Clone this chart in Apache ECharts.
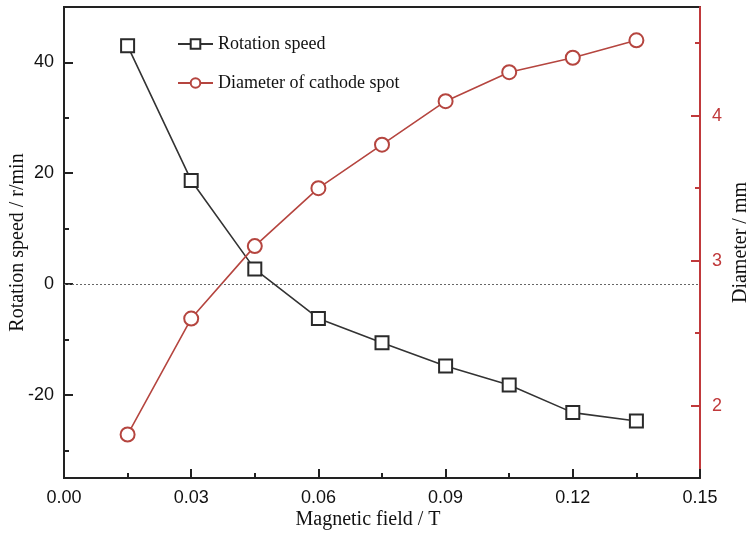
<!DOCTYPE html>
<html>
<head>
<meta charset="utf-8">
<script src="https://cdn.jsdelivr.net/npm/echarts@6/dist/echarts.min.js"></script>
<style>html,body{margin:0;padding:0;background:#fff}#c{width:751px;height:537px}</style>
</head>
<body>
<div id="c"></div>
<script>
var fieldT = [0.015, 0.03, 0.045, 0.06, 0.075, 0.09, 0.105, 0.12, 0.135];
var rotationSpeed = [43.0, 18.7, 2.7, -6.2, -10.6, -14.8, -18.2, -23.2, -24.7];
var spotDiameter = [1.8, 2.6, 3.1, 3.5, 3.8, 4.1, 4.3, 4.4, 4.52];
var leftMajorTicks = [-20, 0, 20, 40];
var leftMinorTicks = [-30, -10, 10, 30];
var rightMajorTicks = [2, 3, 4];
var rightMinorTicks = [2.5, 3.5, 4.5];
var seriesNames = ['Rotation speed', 'Diameter of cathode spot'];

var BLACK = '#222222', RED = '#c0393b', SERIES_RED = '#b5453f';
var sans = 'Liberation Sans', serif = 'Liberation Serif';

function pairs(xs, ys) { return xs.map(function (x, i) { return [x, ys[i]]; }); }

var chart = echarts.init(document.getElementById('c'));
chart.setOption({
  animation: false,
  backgroundColor: '#fff',
  grid: { left: 64, right: 51, top: 7, bottom: 59, outerBoundsMode: 'none', containLabel: false, show: true, borderColor: BLACK, borderWidth: 2, backgroundColor: 'transparent' },
  legend: {
    orient: 'vertical', left: 172, top: 30, itemGap: 21, itemWidth: 35, itemHeight: 12,
    textStyle: { fontFamily: serif, fontSize: 18, color: '#111' },
    data: seriesNames
  },
  xAxis: {
    type: 'value', min: 0, max: 0.15, interval: 0.03,
    name: 'Magnetic field / T', nameLocation: 'middle', nameGap: 32, nameMoveOverlap: false,
    nameTextStyle: { fontFamily: serif, fontSize: 20, color: '#111', padding: [0, 28, 0, 0] },
    axisLine: { onZero: false, lineStyle: { color: BLACK, width: 2 } },
    axisTick: { inside: true, length: 9, lineStyle: { color: BLACK, width: 2 } },
    minorTick: { show: true, splitNumber: 2, length: 5, lineStyle: { color: BLACK, width: 2 } },
    axisLabel: { fontFamily: sans, fontSize: 18, color: '#111', margin: 11, formatter: function (v) { return v.toFixed(2); } },
    splitLine: { show: false }
  },
  yAxis: [
    {
      type: 'value', position: 'left', min: -35, max: 50,
      name: 'Rotation speed / r/min', nameLocation: 'middle', nameGap: 36, nameMoveOverlap: false,
      nameTextStyle: { fontFamily: serif, fontSize: 20, color: '#111' },
      axisLine: { show: true, onZero: false, lineStyle: { color: BLACK, width: 2 } },
      axisTick: { show: true, inside: true, length: 9, customValues: leftMajorTicks, lineStyle: { color: BLACK, width: 2 } },
      axisLabel: { customValues: leftMajorTicks, fontFamily: sans, fontSize: 18, color: '#111', margin: 10 },
      splitLine: { show: false }
    },
    {
      type: 'value', position: 'right', min: 1.5, max: 4.75,
      name: 'Diameter / mm', nameLocation: 'middle', nameGap: 31, nameMoveOverlap: false,
      nameTextStyle: { fontFamily: serif, fontSize: 20, color: '#111' },
      axisLine: { show: true, onZero: false, lineStyle: { color: RED, width: 2 } },
      axisTick: { show: true, inside: true, length: 9, customValues: rightMajorTicks, lineStyle: { color: RED, width: 2 } },
      axisLabel: { customValues: rightMajorTicks, fontFamily: sans, fontSize: 18, color: RED, margin: 12 },
      splitLine: { show: false }
    },
    {
      type: 'value', position: 'left', min: -35, max: 50,
      axisLine: { show: false, onZero: false },
      axisTick: { show: true, inside: true, length: 5, customValues: leftMinorTicks, lineStyle: { color: BLACK, width: 2 } },
      axisLabel: { show: false },
      splitLine: { show: false }
    },
    {
      type: 'value', position: 'right', min: 1.5, max: 4.75,
      axisLine: { show: false, onZero: false },
      axisTick: { show: true, inside: true, length: 5, customValues: rightMinorTicks, lineStyle: { color: RED, width: 2 } },
      axisLabel: { show: false },
      splitLine: { show: false }
    }
  ],
  series: [
    {
      name: seriesNames[0], type: 'line', yAxisIndex: 0,
      data: pairs(fieldT, rotationSpeed),
      symbol: 'rect', symbolSize: 13,
      lineStyle: { color: '#333', width: 1.6 },
      itemStyle: { color: '#fff', borderColor: '#2a2a2a', borderWidth: 2 },
      z: 3,
      markLine: {
        silent: true, symbol: ['none', 'none'], label: { show: false },
        lineStyle: { color: '#666', type: [2, 2], width: 1 },
        data: [{ yAxis: 0 }]
      }
    },
    {
      name: seriesNames[1], type: 'line', yAxisIndex: 1,
      data: pairs(fieldT, spotDiameter),
      symbol: 'circle', symbolSize: 14,
      lineStyle: { color: SERIES_RED, width: 1.6 },
      itemStyle: { color: '#fff', borderColor: SERIES_RED, borderWidth: 2 },
      z: 3
    }
  ]
});
</script>
</body>
</html>
